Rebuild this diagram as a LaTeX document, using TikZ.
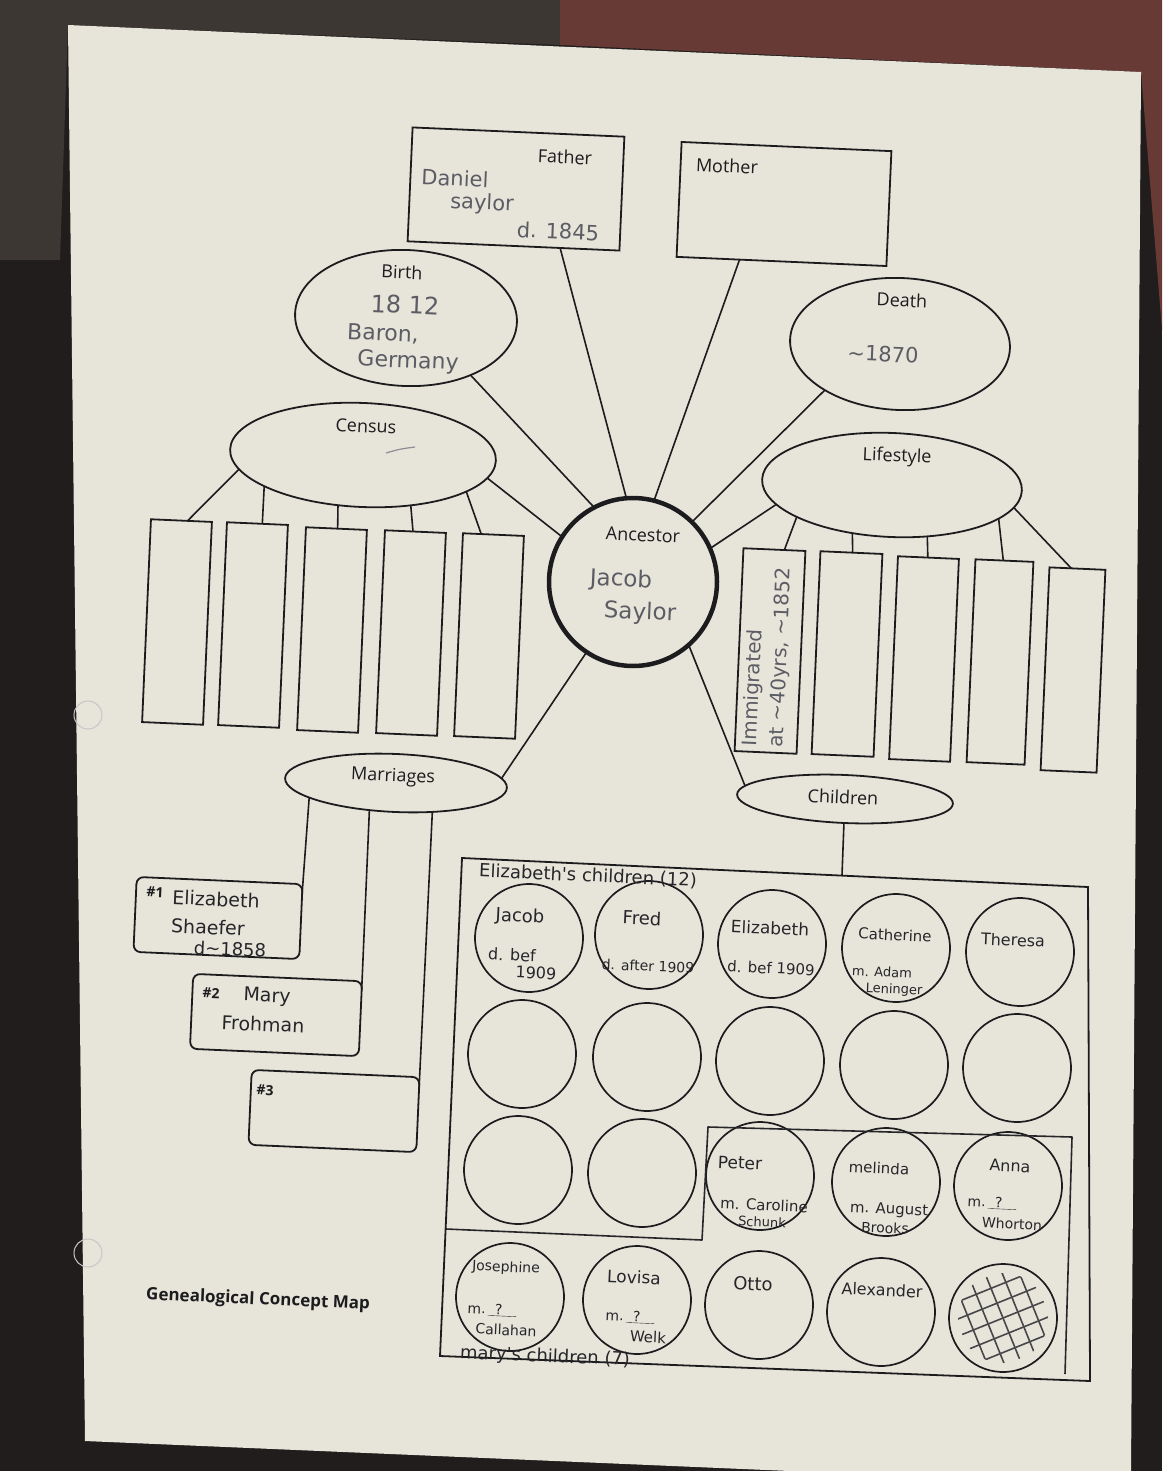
\documentclass[tikz,border=0pt]{standalone}
\usepackage{fontspec}
\setmainfont{Open Sans}
\newfontfamily\handfont{DejaVu Sans}
\usetikzlibrary{calc,shapes.geometric}
\definecolor{bgdark}{RGB}{32,29,28}
\definecolor{bggray}{RGB}{60,55,51}
\definecolor{bgbrick}{RGB}{104,58,54}
\definecolor{paper}{RGB}{231,229,218}
\definecolor{ink}{RGB}{28,28,30}
\definecolor{pencil}{RGB}{92,92,100}
\definecolor{pen}{RGB}{38,38,42}
\begin{document}
\begin{tikzpicture}[x=1pt,y=-1pt,
  shp/.style={draw=ink,line width=1.8pt,inner sep=0pt,outer sep=0pt,rotate=-2.5},
  rbox/.style={shp,rectangle},
  ell/.style={shp,ellipse},
  kid/.style={shp,circle,minimum size=108pt,line width=1.7pt},
  lbl/.style={font=\fontsize{18}{21}\selectfont,text=ink,inner sep=0pt,rotate=-2.5},
  hand/.style={font=\handfont\fontsize{21}{26}\selectfont,text=pencil,inner sep=0pt,rotate=-2.5,align=center},
  penh/.style={hand,text=pen},
  link/.style={draw=ink,line width=1.6pt},
  handline/.style={draw=pen,line width=1.6pt,line join=round}
]
\useasboundingbox (0,0) rectangle (1162,1471);
% background photo
\fill[bgdark] (0,0) rectangle (1162,1471);
\fill[bggray] (0,0) -- (560,0) -- (560,45) -- (68,25) -- (60,260) -- (0,260) -- cycle;
\fill[bgbrick] (560,0) -- (1162,0) -- (1162,330) -- (1141,72) -- (560,45) -- cycle;
\fill[paper] (68,25) -- (1141,72) -- (1131,1471) -- (790,1471) -- (85,1441) -- cycle;
% punch holes
\draw[gray!45,line width=1pt] (88,715) circle[radius=14pt];
\draw[gray!45,line width=1pt] (88,1253) circle[radius=14pt];

% main shapes
\node[rbox,minimum width=212pt,minimum height=114pt] (father) at (516,189) {};
\node[rbox,minimum width=210pt,minimum height=115pt] (mother) at (784,204) {};
\node[ell,minimum width=222pt,minimum height=136pt] (birth) at (406,318) {};
\node[ell,minimum width=220pt,minimum height=132pt] (death) at (900,344) {};
\node[ell,minimum width=266pt,minimum height=104pt] (census) at (363,455) {};
\node[ell,minimum width=260pt,minimum height=104pt] (life) at (892,485) {};
\node[shp,circle,line width=4.5pt,minimum size=168pt] (anc) at (633,582) {};
\node[ell,minimum width=222pt,minimum height=58pt] (marr) at (396,783) {};
\node[ell,minimum width=216pt,minimum height=48pt] (child) at (845,799) {};

\foreach \n/\x/\y in {1/177/622,2/253/625,3/332/630,4/411/633,5/489/636}
  \node[rbox,minimum width=61pt,minimum height=203pt] (c\n) at (\x,\y) {};
\foreach \n/\x/\y/\w in {1/770/651/62,2/847/654/62,3/924/659/61,4/1000/662/58,5/1073/670/56}
  \node[rbox,minimum width=\w pt,minimum height=203pt] (l\n) at (\x,\y) {};

\node[rbox,rounded corners=7pt,minimum width=166pt,minimum height=75pt] (b1) at (218,918) {};
\node[rbox,rounded corners=7pt,minimum width=169pt,minimum height=75pt] (b2) at (276,1015) {};
\node[rbox,rounded corners=7pt,minimum width=168pt,minimum height=75pt] (b3) at (334,1111) {};

% children container
\coordinate (bbtl) at (462,858);
\coordinate (bbtr) at (1088,887);
\coordinate (bbbr) at (1090,1381);
\coordinate (bbbl) at (440,1356);
\draw[link,line width=1.8pt] (bbtl) -- (bbtr) -- (bbbr) -- (bbbl) -- cycle;

% children circles
\foreach \n/\x/\y in {11/529/938,12/649/935,13/772/944,14/896/948,15/1020/952,
                      21/522/1054,22/647/1057,23/770/1061,24/894/1065,25/1017/1068,
                      31/518/1170,32/642/1173,33/760/1176,34/886/1182,35/1008/1186,
                      41/510/1297,42/637/1300,43/759/1305,44/881/1312,45/1003/1318}
  \node[kid] (k\n) at (\x,\y) {};

% connectors to ancestor
\draw[link] ($(father.south west)!0.72!(father.south east)$) -- (anc.97.9);
\draw[link] ($(mother.south west)!0.30!(mother.south east)$) -- (anc.78);
\draw[link] (birth.-39.5) -- (anc.120.9);
\draw[link] (census.352.9) -- (anc.150.3);
\draw[link] (death.214.1) -- (anc.48.8);
\draw[link] (life.192.9) -- (anc.26.4);
\draw[link] (marr.5.5) -- (anc.239.2);
\draw[link] (anc.314.5) -- (child.175.9);
\draw[link] (child.south) -- ($(bbtl)!0.607!(bbtr)$);

% census branches
\draw[link] (census.189.7) -- ($(c1.north west)!0.6!(c1.north east)$);
\draw[link] (census.200.9) -- ($(c2.north west)!0.58!(c2.north east)$);
\draw[link] (census.246.8) -- ($(c3.north west)!0.52!(c3.north east)$);
\draw[link] (census.316.9) -- ($(c4.north west)!0.46!(c4.north east)$);
\draw[link] (census.343.1) -- ($(c5.north west)!0.3!(c5.north east)$);
% lifestyle branches
\draw[link] (life.201.8) -- ($(l1.north west)!0.66!(l1.north east)$);
\draw[link] (life.233.4) -- ($(l2.north west)!0.52!(l2.north east)$);
\draw[link] (life.307.2) -- ($(l3.north west)!0.49!(l3.north east)$);
\draw[link] (life.345.9) -- ($(l4.north west)!0.48!(l4.north east)$);
\draw[link] (life.352.1) -- ($(l5.north west)!0.39!(l5.north east)$);
% marriage branches
\draw[link] (marr.192.2) -- ($(b1.north east)!0.12!(b1.south east)$);
\draw[link] (marr.228.5) -- ($(b2.north east)!0.12!(b2.south east)$);
\draw[link] (marr.324.4) -- ($(b3.north east)!0.12!(b3.south east)$);

% hand-drawn divider for Mary's children
\draw[handline] (446,1229) -- (702,1240) -- (708,1127) -- (1072,1137) -- (1065,1374);

% printed labels
\node[lbl] (tfather) at (565,157) {Father};
\node[lbl] (tmother) at (727,166) {Mother};
\node[lbl] (tbirth) at (402,272) {Birth};
\node[lbl] (tdeath) at (902,300) {Death};
\node[lbl] (tcensus) at (366,426) {Census};
\node[lbl] (tlife) at (897,457) {Lifestyle};
\node[lbl] (tanc) at (643,535) {Ancestor};
\node[lbl] (tmarr) at (393,777) {Marriages};
\node[lbl] (tchild) at (843,797) {Children};
\node[lbl,font=\bfseries\fontsize{14}{16}\selectfont] (tn1) at (155,892) {\#1};
\node[lbl,font=\bfseries\fontsize{14}{16}\selectfont] (tn2) at (211,993) {\#2};
\node[lbl,font=\bfseries\fontsize{14}{16}\selectfont] (tn3) at (265,1090) {\#3};
\node[lbl,font=\bfseries\fontsize{17}{20}\selectfont] (title) at (258,1300) {Genealogical Concept Map};

% pencil notes
\draw[pencil!70,line width=1.2pt] (386,453) .. controls (400,449) .. (415,447);
\node[hand] (hf1) at (455,178) {Daniel};
\node[hand] (hf2) at (482,204) {saylor};
\node[hand] (hf3) at (558,231) {d. 1845};
\node[hand,font=\handfont\fontsize{24}{28}\selectfont] (hb1) at (405,305) {18 12};
\node[hand,font=\handfont\fontsize{22}{26}\selectfont] (hb2) at (383,334) {Baron,};
\node[hand,font=\handfont\fontsize{22}{26}\selectfont] (hb3) at (408,362) {Germany};
\node[hand] (hd) at (883,354) {\textasciitilde1870};
\node[hand,font=\handfont\fontsize{23}{27}\selectfont] (ha1) at (621,580) {Jacob};
\node[hand,font=\handfont\fontsize{23}{27}\selectfont] (ha2) at (640,613) {Saylor};
\node[hand,rotate=90,align=left,font=\handfont\fontsize{20}{26}\selectfont] (himm) at (768,657) {Immigrated\\at \textasciitilde40yrs, \textasciitilde1852};

% marriages
\node[penh,font=\handfont\fontsize{19}{22}\selectfont] (hm1a) at (216,899) {Elizabeth};
\node[penh,font=\handfont\fontsize{19}{22}\selectfont] (hm1b) at (208,927) {Shaefer};
\node[penh,font=\handfont\fontsize{18}{22}\selectfont] (hm1c) at (230,949) {d\textasciitilde1858};
\node[penh,font=\handfont\fontsize{19}{22}\selectfont] (hm2a) at (267,997) {Mary};
\node[penh,font=\handfont\fontsize{19}{22}\selectfont] (hm2b) at (263,1024) {Frohman};

% children names
\node[penh,font=\handfont\fontsize{18}{22}\selectfont] (ek) at (588,876) {Elizabeth's children (12)};
\node[penh,font=\handfont\fontsize{18}{22}\selectfont] (mk) at (545,1357) {mary's children (7)};
\node[penh,font=\handfont\fontsize{18}{21}\selectfont] (n11a) at (520,917) {Jacob};
\node[penh,font=\handfont\fontsize{16}{19}\selectfont] (n11b) at (512,955) {d. bef};
\node[penh,font=\handfont\fontsize{16}{19}\selectfont] (n11c) at (536,973) {1909};
\node[penh,font=\handfont\fontsize{18}{21}\selectfont] (n12a) at (642,918) {Fred};
\node[penh,font=\handfont\fontsize{14}{17}\selectfont] (n12b) at (648,966) {d. after 1909};
\node[penh,font=\handfont\fontsize{17}{20}\selectfont] (n13a) at (770,928) {Elizabeth};
\node[penh,font=\handfont\fontsize{15}{18}\selectfont] (n13b) at (771,968) {d. bef 1909};
\node[penh,font=\handfont\fontsize{15}{18}\selectfont] (n14a) at (895,935) {Catherine};
\node[penh,font=\handfont\fontsize{13}{15}\selectfont] (n14b) at (882,972) {m. Adam};
\node[penh,font=\handfont\fontsize{13}{15}\selectfont] (n14c) at (894,990) {Leninger};
\node[penh,font=\handfont\fontsize{16}{19}\selectfont] (n15a) at (1013,940) {Theresa};
\node[penh,font=\handfont\fontsize{17}{20}\selectfont] (n33a) at (740,1163) {Peter};
\node[penh,font=\handfont\fontsize{15}{18}\selectfont] (n33b) at (764,1205) {m. Caroline};
\node[penh,font=\handfont\fontsize{13}{15}\selectfont] (n33c) at (762,1222) {Schunk};
\node[penh,font=\handfont\fontsize{15}{18}\selectfont] (n34a) at (879,1168) {melinda};
\node[penh,font=\handfont\fontsize{15}{18}\selectfont] (n34b) at (889,1210) {m. August};
\node[penh,font=\handfont\fontsize{14}{17}\selectfont] (n34c) at (885,1228) {Brooks};
\node[penh,font=\handfont\fontsize{16}{19}\selectfont] (n35a) at (1010,1166) {Anna};
\node[penh,font=\handfont\fontsize{14}{17}\selectfont] (n35b) at (992,1203) {m.\,\underline{\enspace?\enspace\enspace}};
\node[penh,font=\handfont\fontsize{14}{17}\selectfont] (n35c) at (1012,1224) {Whorton};
\node[penh,font=\handfont\fontsize{14}{17}\selectfont] (n41a) at (506,1268) {Josephine};
\node[penh,font=\handfont\fontsize{14}{17}\selectfont] (n41b) at (492,1310) {m.\,\underline{\enspace?\enspace\enspace}};
\node[penh,font=\handfont\fontsize{14}{17}\selectfont] (n41c) at (506,1330) {Callahan};
\node[penh,font=\handfont\fontsize{17}{20}\selectfont] (n42a) at (634,1277) {Lovisa};
\node[penh,font=\handfont\fontsize{14}{17}\selectfont] (n42b) at (630,1317) {m.\,\underline{\enspace?\enspace\enspace}};
\node[penh,font=\handfont\fontsize{15}{18}\selectfont] (n42c) at (648,1337) {Welk};
\node[penh,font=\handfont\fontsize{18}{21}\selectfont] (n43a) at (753,1284) {Otto};
\node[penh,font=\handfont\fontsize{16}{19}\selectfont] (n44a) at (882,1290) {Alexander};

% hatched circle
\begin{scope}
  \clip (k45.center) circle[radius=45pt];
  \begin{scope}[shift={(k45.center)},rotate=22]
    \foreach \t in {-32,-16,0,16,32}{
      \draw[pen!85,line width=1.6pt] (\t,-44) -- (\t,44);
      \draw[pen!85,line width=1.6pt] (-44,\t) -- (44,\t);
    }
  \end{scope}
\end{scope}
\end{tikzpicture}
\end{document}
